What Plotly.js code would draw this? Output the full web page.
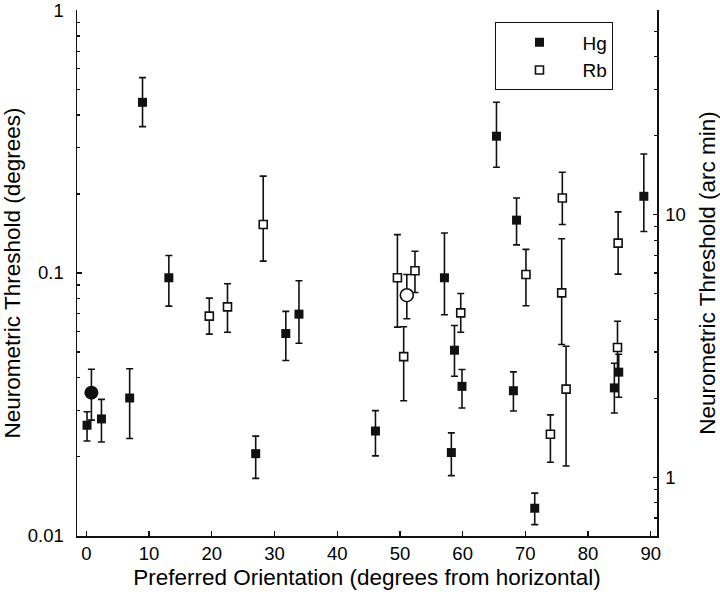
<!DOCTYPE html>
<html>
<head>
<meta charset="utf-8">
<script src="https://cdn.plot.ly/plotly-3.0.1.min.js"></script>
<style>html,body{margin:0;padding:0;background:#fff;}#chart{width:720px;height:594px;}</style>
</head>
<body>
<div id="chart"></div>
<script>
// Hg cells (filled squares): preferred orientation (deg), threshold (deg), error bar top / bottom
const hgX  = [0.1, 2.4, 6.9, 8.95, 13.15, 27.0, 31.8, 33.9, 46.1, 57.1, 58.2, 58.7, 59.9, 65.4, 68.1, 68.6, 71.5, 84.2, 84.9, 88.9];
const hgY  = [0.0263, 0.0278, 0.0334, 0.447, 0.0959, 0.0205, 0.0588, 0.0697, 0.0250, 0.0959, 0.0207, 0.0508, 0.0370, 0.332, 0.0356, 0.159, 0.0127, 0.0365, 0.0419, 0.196];
const hgHi = [0.0296, 0.033, 0.0432, 0.555, 0.1166, 0.0239, 0.0714, 0.0934, 0.0299, 0.142, 0.0246, 0.0631, 0.0429, 0.447, 0.042, 0.193, 0.0145, 0.0453, 0.049, 0.284];
const hgLo = [0.0229, 0.0227, 0.0234, 0.361, 0.0748, 0.0165, 0.0464, 0.054, 0.0201, 0.0693, 0.0169, 0.0404, 0.0306, 0.253, 0.0298, 0.128, 0.0110, 0.0293, 0.0336, 0.144];

// Rb cells (open squares)
const rbX  = [19.6, 22.5, 28.2, 49.6, 50.6, 52.4, 59.7, 70.1, 74.0, 75.8, 75.9, 76.5, 84.7, 84.8];
const rbY  = [0.0685, 0.0743, 0.153, 0.0959, 0.048, 0.102, 0.0705, 0.0987, 0.0243, 0.0840, 0.193, 0.0361, 0.052, 0.130];
const rbHi = [0.0802, 0.091, 0.234, 0.14, 0.0624, 0.121, 0.0835, 0.123, 0.0288, 0.135, 0.242, 0.0526, 0.0655, 0.171];
const rbLo = [0.0585, 0.0595, 0.111, 0.0622, 0.0326, 0.0843, 0.0595, 0.075, 0.019, 0.0534, 0.153, 0.0184, 0.041, 0.099];

// Group means (circles)
const hgMeanX = [0.8],  hgMeanY = [0.035],  hgMeanHi = [0.043],  hgMeanLo = [0.0275];
const rbMeanX = [51.1], rbMeanY = [0.0823], rbMeanHi = [0.0987], rbMeanLo = [0.0669];

// Axis ticks
const xTicks = [0, 10, 20, 30, 40, 50, 60, 70, 80, 90];
const yTicks = [0.01, 0.1, 1];
const yTickText = ['0.01', '0.1', '1'];
const yMinor = [0.02, 0.03, 0.04, 0.05, 0.06, 0.07, 0.08, 0.09, 0.2, 0.3, 0.4, 0.5, 0.6, 0.7, 0.8, 0.9];
const y2Ticks = [1, 10];
const y2TickText = ['1', '10'];
const y2Minor = [0.6, 0.7, 0.8, 0.9, 2, 3, 4, 5, 6, 7, 8, 9, 20, 30, 40, 50, 60];
const ARCMIN_PER_DEG = 60;

const FONT = 'Liberation Sans, Arial, Helvetica, sans-serif';
const INK = '#111';
const EPS = 0.002; // tiny log-range padding so end ticks are kept

function errs(y, hi, lo) {
  return {
    type: 'data', symmetric: false,
    array: hi.map((h, i) => h - y[i]),
    arrayminus: lo.map((l, i) => y[i] - l),
    color: INK, thickness: 1.6, width: 3.5
  };
}

const traces = [
  {
    type: 'scatter', mode: 'markers', name: 'Hg', x: hgX, y: hgY,
    error_y: errs(hgY, hgHi, hgLo),
    marker: {symbol: 'square', size: 9, color: INK, line: {color: INK, width: 0}}
  },
  {
    type: 'scatter', mode: 'markers', name: 'Rb', x: rbX, y: rbY,
    error_y: errs(rbY, rbHi, rbLo),
    marker: {symbol: 'square', size: 8, color: '#fff', line: {color: INK, width: 1.6}}
  },
  {
    type: 'scatter', mode: 'markers', name: 'Hg mean', showlegend: false, x: hgMeanX, y: hgMeanY,
    error_y: errs(hgMeanY, hgMeanHi, hgMeanLo),
    marker: {symbol: 'circle', size: 14, color: INK, line: {color: INK, width: 0}}
  },
  {
    type: 'scatter', mode: 'markers', name: 'Rb mean', showlegend: false, x: rbMeanX, y: rbMeanY,
    error_y: errs(rbMeanY, rbMeanHi, rbMeanLo),
    marker: {symbol: 'circle', size: 13, color: '#fff', line: {color: INK, width: 1.6}}
  },
  {
    // same Hg thresholds expressed in arc min, drawn invisibly so the right-hand axis is built
    type: 'scatter', mode: 'markers', name: 'Hg (arc min)', showlegend: false, hoverinfo: 'skip',
    x: hgX, y: hgY.map(v => v * ARCMIN_PER_DEG), yaxis: 'y2',
    marker: {size: 1, opacity: 0}
  }
];

const layout = {
  width: 720, height: 594,
  margin: {l: 77, r: 63, t: 10, b: 58},
  paper_bgcolor: '#fff', plot_bgcolor: '#fff',
  font: {family: FONT, color: '#000', size: 18.5},
  showlegend: true,
  legend: {
    x: 0.721, y: 0.977, xanchor: 'left', yanchor: 'top',
    bordercolor: INK, borderwidth: 1.3, bgcolor: '#fff',
    font: {family: FONT, size: 19, color: '#000'},
    itemwidth: 76, tracegroupgap: 0
  },
  xaxis: {
    range: [-1.5, 91], tickmode: 'array', tickvals: xTicks,
    ticks: 'inside', ticklen: 5, tickwidth: 1.3, tickcolor: INK,
    showline: true, linecolor: INK, linewidth: 1.5, mirror: false,
    showgrid: false, zeroline: false,
    tickfont: {size: 18.5},
    title: {text: 'Preferred Orientation (degrees from horizontal)', font: {size: 22.5}, standoff: 6}
  },
  yaxis: {
    type: 'log', range: [-2 - EPS, 0 + EPS],
    tickmode: 'array', tickvals: yTicks, ticktext: yTickText,
    ticks: 'inside', ticklen: 5, tickwidth: 1.3, tickcolor: INK,
    minor: {tickmode: 'array', tickvals: yMinor, ticks: 'inside', ticklen: 3, tickwidth: 1.2, tickcolor: INK, showgrid: false},
    showline: true, linecolor: INK, linewidth: 1.5, mirror: false,
    showgrid: false, zeroline: false,
    ticklabelstandoff: 8, ticklabeloverflow: 'allow', automargin: false,
    tickfont: {size: 18.5},
    title: {text: 'Neurometric Threshold (degrees)', font: {size: 22.5}, standoff: 6}
  },
  yaxis2: {
    type: 'log', overlaying: 'y', side: 'right',
    range: [Math.log10(0.01 * ARCMIN_PER_DEG) - EPS, Math.log10(1 * ARCMIN_PER_DEG) + EPS],
    tickmode: 'array', tickvals: y2Ticks, ticktext: y2TickText,
    ticks: 'inside', ticklen: 4, tickwidth: 1.3, tickcolor: INK,
    minor: {tickmode: 'array', tickvals: y2Minor, ticks: 'inside', ticklen: 3, tickwidth: 1.2, tickcolor: INK, showgrid: false},
    showline: true, linecolor: INK, linewidth: 1.5,
    showgrid: false, zeroline: false,
    ticklabelstandoff: 3, automargin: false,
    tickfont: {size: 18.5},
    title: {text: 'Neurometric Threshold (arc min)', font: {size: 22.5}, standoff: 14}
  }
};

Plotly.newPlot('chart', traces, layout, {displayModeBar: false, staticPlot: true});
</script>
</body>
</html>
